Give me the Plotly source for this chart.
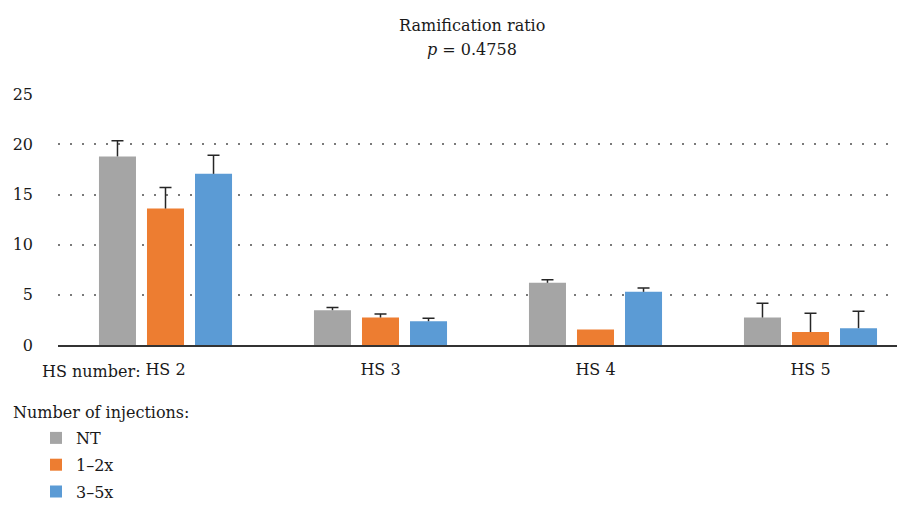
import plotly.graph_objects as go

categories = ["HS 2", "HS 3", "HS 4", "HS 5"]
series_names = ["NT", "1\u20132x", "3\u20135x"]
nt_values = [18.8, 3.47, 6.2, 2.74]
nt_err = [1.55, 0.26, 0.3, 1.42]
low_values = [13.6, 2.74, 1.55, 1.29]
low_err = [2.1, 0.36, 0.0, 1.88]
high_values = [17.06, 2.37, 5.3, 1.68]
high_err = [1.85, 0.3, 0.37, 1.69]
y_ticks = [0, 5, 10, 15, 20, 25]

colors = ["#A5A5A5", "#ED7D31", "#5B9BD5"]
serif = "DejaVu Serif"
txt = "#1a1a1a"
ecol = "#262626"
FS = 16

fig = go.Figure()
for name, vals, errs, col in zip(series_names,
                                 [nt_values, low_values, high_values],
                                 [nt_err, low_err, high_err], colors):
    # bar with the error stem only (no caps)
    fig.add_trace(go.Bar(
        x=categories, y=vals, name=name, legendgroup=name, offsetgroup=name,
        marker=dict(color=col, line=dict(width=0)),
        error_y=dict(type="data", array=errs, arrayminus=[0] * len(errs),
                     symmetric=False, color=ecol, thickness=1.5, width=0),
    ))
    # invisible bar reaching the error top, used to draw the top cap only
    tops = [v + e if e > 0 else None for v, e in zip(vals, errs)]
    fig.add_trace(go.Bar(
        x=categories, y=tops, name=name, legendgroup=name, offsetgroup=name,
        showlegend=False, hoverinfo="skip",
        marker=dict(color="rgba(0,0,0,0)", line=dict(width=0)),
        error_y=dict(type="data", array=[0] * len(errs), arrayminus=[0] * len(errs),
                     symmetric=False, color=ecol, thickness=1.5, width=6),
    ))

# page body adds an 8px offset; work in page pixels and subtract it
OFF = 8
W, H = 905 - OFF, 505 - OFF
ml, mr, mt, mb = 58 - OFF, 0, 94 - OFF, 160
pw = W - ml - mr
ph = H - mt - mb

def px(x):
    return (x - OFF - ml) / pw

def py(y):
    return (H - mb - (y - OFF)) / ph

fig.update_layout(
    width=W, height=H,
    margin=dict(l=ml, r=mr, t=mt, b=mb, autoexpand=False),
    paper_bgcolor="white", plot_bgcolor="white",
    barmode="group", bargap=0.33, bargroupgap=0.229,
    font=dict(family=serif, size=FS, color=txt),
    xaxis=dict(range=[-0.5, -0.5 + pw / 215.0], showgrid=False,
               showline=True, linecolor="#333333", linewidth=1.5,
               ticks="", ticklabelstandoff=9, automargin=False,
               tickfont=dict(family=serif, size=FS, color=txt)),
    yaxis=dict(range=[0, 25.02], tickvals=y_ticks, showline=False,
               showgrid=True, gridcolor="#7a7a7a", griddash="1.5px,10.5px",
               gridwidth=1.5, automargin=False,
               zeroline=False, ticks="", ticklabelstandoff=24,
               tickfont=dict(family=serif, size=FS, color=txt)),
    showlegend=True,
    legend=dict(x=px(36), xanchor="left", y=py(421), yanchor="top",
                orientation="v", font=dict(family=serif, size=FS, color=txt),
                itemwidth=30, tracegroupgap=3, bgcolor="rgba(0,0,0,0)"),
    annotations=[
        dict(text="Ramification ratio", xref="paper", yref="paper",
             x=px(472), y=py(25), xanchor="center", yanchor="middle",
             showarrow=False, font=dict(family=serif, size=FS, color=txt)),
        dict(text="<i>p</i> = 0.4758", xref="paper", yref="paper",
             x=px(472), y=py(50), xanchor="center", yanchor="middle",
             showarrow=False, font=dict(family=serif, size=FS, color=txt)),
        dict(text="HS number:", xref="paper", yref="paper",
             x=px(143), y=py(371), xanchor="right", yanchor="middle",
             showarrow=False, font=dict(family=serif, size=FS, color=txt)),
        dict(text="Number of injections:", xref="paper", yref="paper",
             x=px(11), y=py(412), xanchor="left", yanchor="middle",
             showarrow=False, font=dict(family=serif, size=FS, color=txt)),
    ],
)

fig.write_html("out.html")
